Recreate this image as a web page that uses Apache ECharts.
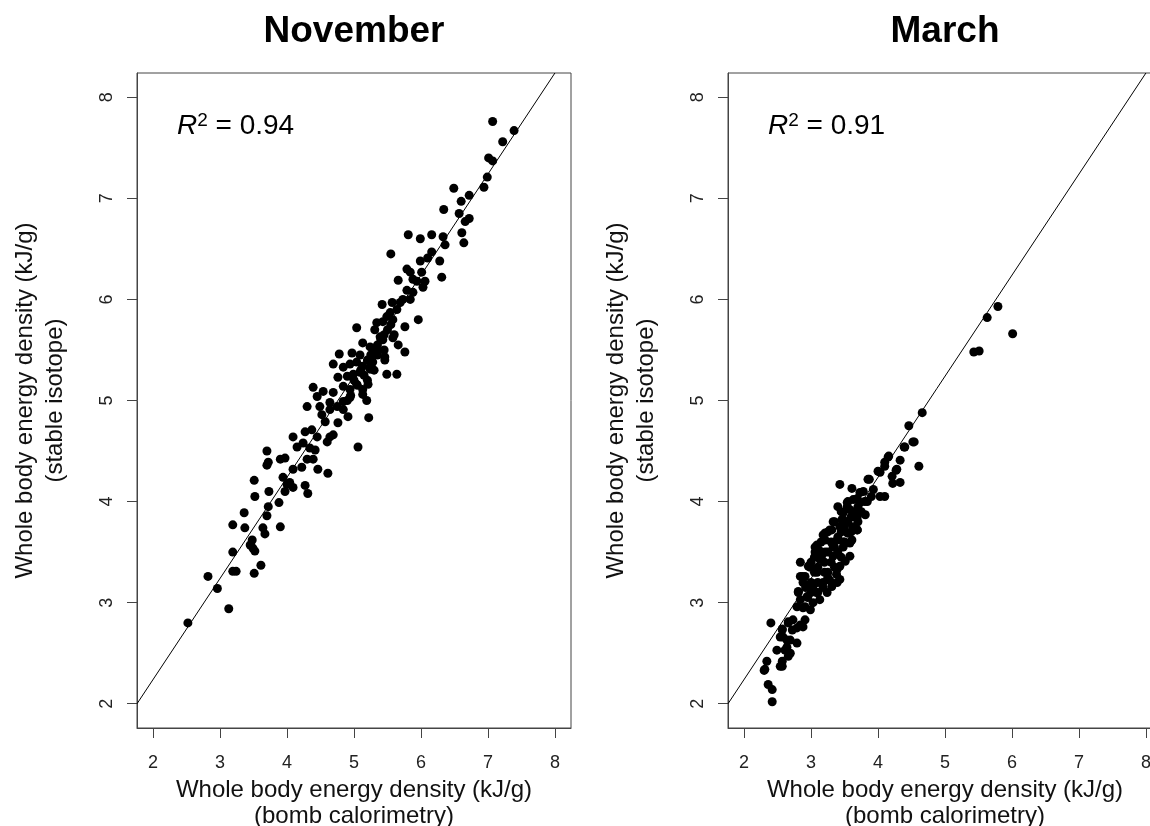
<!DOCTYPE html>
<html>
<head>
<meta charset="utf-8">
<script src="https://cdn.jsdelivr.net/npm/echarts@6/dist/echarts.min.js"></script>
<style>
  html, body { margin: 0; padding: 0; background: #fff; overflow: hidden; }
  #chart { width: 1180px; height: 826px; }
</style>
</head>
<body>
<div id="chart"></div>
<script>
var panelTitles = ['November', 'March']
var r2Values = ['0.94', '0.91']
var tickValues = [2, 3, 4, 5, 6, 7, 8]
var axisRange = [1.76, 8.24]
var xName = 'Whole body energy density (kJ/g)\n(bomb calorimetry)'
var yName = 'Whole body energy density (kJ/g)\n(stable isotope)'
// reference line, same in both panels
var refLine = [[1.76, 2.0], [8.0, 8.24]]

// [bomb calorimetry, stable isotope]
var novemberPoints = [
  [7.07,7.76],[7.39,7.67],[7.22,7.56],[7.01,7.40],[7.07,7.37],[6.99,7.21],[6.94,7.11],[6.49,7.10],
  [6.72,7.03],[6.60,6.97],[6.34,6.89],[6.57,6.85],[6.72,6.80],[6.66,6.77],[6.61,6.66],[6.64,6.56],
  [5.81,6.64],[5.99,6.60],[6.16,6.64],[6.33,6.62],[6.36,6.54],[5.55,6.45],[6.16,6.47],[6.10,6.41],
  [5.99,6.38],[6.28,6.38],[5.79,6.30],[5.84,6.27],[6.01,6.27],[6.31,6.22],[5.66,6.19],[5.88,6.20],
  [5.94,6.18],[6.06,6.18],[6.03,6.12],[5.79,6.09],[5.88,6.07],[5.73,6.00],[5.69,5.97],[5.84,6.00],
  [5.42,5.95],[5.57,5.97],[5.64,5.90],[5.54,5.87],[5.49,5.83],[5.34,5.77],[5.43,5.78],[5.58,5.80],
  [5.76,5.73],[5.96,5.80],[5.04,5.72],[5.31,5.70],[5.39,5.63],[5.43,5.60],[5.58,5.62],[5.66,5.55],
  [5.76,5.48],[5.13,5.57],[5.24,5.53],[5.34,5.50],[4.78,5.46],[4.97,5.47],[5.09,5.45],[5.46,5.43],
  [4.69,5.36],[4.84,5.33],[4.94,5.36],[5.04,5.38],[5.13,5.34],[5.28,5.38],[5.46,5.40],[4.76,5.23],
  [4.90,5.24],[4.99,5.26],[5.09,5.28],[5.24,5.31],[5.49,5.26],[5.64,5.26],[4.84,5.14],[4.94,5.11],
  [5.04,5.16],[5.13,5.11],[5.21,5.16],[4.39,5.13],[4.45,5.04],[4.54,5.09],[4.69,5.08],[4.30,4.94],
  [4.49,4.94],[4.64,4.98],[4.75,4.94],[4.84,4.99],[4.94,5.03],[5.13,5.06],[4.84,4.91],[4.91,4.84],
  [4.76,4.78],[4.57,4.79],[4.52,4.86],[5.19,5.00],[5.22,4.83],[4.64,4.91],[4.09,4.64],[4.27,4.69],
  [4.37,4.71],[4.45,4.64],[4.64,4.64],[4.69,4.66],[4.60,4.59],[4.24,4.58],[4.15,4.54],[4.34,4.53],
  [4.42,4.51],[4.30,4.42],[4.39,4.42],[4.46,4.32],[4.22,4.34],[4.09,4.32],[4.61,4.28],[5.06,4.54],
  [3.70,4.50],[3.72,4.39],[3.70,4.36],[3.90,4.42],[3.97,4.43],[3.51,4.21],[3.52,4.05],[3.73,4.10],
  [3.94,4.24],[4.00,4.17],[4.04,4.19],[3.97,4.10],[4.09,4.14],[4.27,4.16],[4.31,4.08],[3.88,3.99],
  [3.72,3.95],[3.36,3.89],[3.19,3.77],[3.37,3.74],[3.70,3.86],[3.64,3.74],[3.67,3.68],[3.90,3.75],
  [3.48,3.62],[3.45,3.57],[3.49,3.54],[3.52,3.51],[3.19,3.50],[3.61,3.37],[3.19,3.31],[3.24,3.31],
  [3.51,3.29],[2.82,3.26],[2.96,3.14],[3.13,2.94],[2.52,2.80],
  [5.00,5.20],[5.10,5.30],[5.20,5.40],[5.30,5.50],[5.15,5.25],[5.25,5.35],[5.35,5.45],[5.05,5.15],
  [4.95,5.05],[5.40,5.60],[5.45,5.65],[5.50,5.70],[5.20,5.20],[5.30,5.30],[4.90,5.00],[5.55,5.75],
  [5.60,5.65],[5.35,5.55],[5.45,5.50],[5.25,5.45]
]

var marchPoints = [
  [5.79,5.93],[5.63,5.82],[6.01,5.66],[5.43,5.48],[5.51,5.49],
  [4.66,4.88],[4.46,4.75],[4.54,4.59],[4.61,4.35],[4.39,4.54],[4.33,4.41],[4.16,4.45],[4.10,4.39],
  [4.03,4.29],[4.27,4.31],[4.21,4.25],[4.33,4.19],[4.22,4.18],[4.03,4.05],[4.10,4.05],[3.87,4.22],
  [3.93,4.12],[3.78,4.10],[3.84,4.00],[3.69,4.03],[3.43,4.17],[3.61,4.13],[3.81,3.87],[3.63,3.85],
  [3.54,3.95],[3.40,3.95],[3.33,3.80],[3.48,3.82],[3.69,3.72],[3.55,3.69],[3.43,3.75],[3.18,3.67],
  [3.28,3.72],[3.39,3.62],[3.61,3.62],[3.48,3.55],[3.33,3.55],[3.09,3.57],[3.06,3.50],[3.21,3.50],
  [3.13,3.43],[3.33,3.46],[3.58,3.46],[3.51,3.41],[3.43,3.36],[2.84,3.40],[2.99,3.35],[2.91,3.26],
  [3.09,3.30],[3.25,3.30],[3.39,3.33],[3.43,3.23],[2.84,3.26],[2.88,3.20],[3.03,3.16],[3.18,3.20],
  [3.31,3.16],[3.39,3.20],[3.24,3.10],[2.81,3.11],[2.84,3.03],[2.94,3.06],[3.03,3.00],[3.10,3.10],
  [2.79,2.96],[2.88,2.95],[2.99,2.93],[3.13,3.03],[2.40,2.80],[2.57,2.74],[2.66,2.80],[2.73,2.83],
  [2.84,2.78],[2.91,2.83],[2.72,2.73],[2.79,2.75],[2.88,2.76],[2.54,2.66],[2.64,2.63],[2.79,2.60],
  [2.49,2.53],[2.64,2.56],[2.69,2.50],[2.57,2.42],[2.66,2.47],[2.34,2.42],[2.31,2.34],[2.57,2.37],
  [2.36,2.19],[2.42,2.14],[2.42,2.02],[2.30,2.33],[2.54,2.37],[2.61,2.53],[2.58,2.66],[2.69,2.63],
  [2.57,2.73],[2.66,2.81],[2.81,3.10],[2.87,3.26],[2.96,3.36],[3.06,3.55],[2.91,2.96],
  [3.00,3.20],[3.05,3.30],[3.10,3.35],[3.15,3.45],[3.20,3.40],[3.25,3.50],[3.30,3.60],[3.35,3.55],
  [3.40,3.65],[3.45,3.70],[3.50,3.75],[3.55,3.80],[3.60,3.85],[3.65,3.90],[3.70,3.95],[3.20,3.30],
  [3.30,3.40],[3.40,3.50],[3.50,3.60],[3.10,3.20],[3.00,3.10],[2.95,3.05],[3.25,3.25],[3.35,3.35],
  [3.45,3.45],[3.15,3.60],[3.25,3.70],[3.35,3.80],[3.45,3.90],[3.55,4.00],[3.60,3.70],[3.70,3.80],
  [3.75,3.90],[3.80,4.00],[3.90,4.05],[3.05,3.45],[3.12,3.52],[3.00,3.40],[2.92,3.15],[3.08,3.10],
  [3.18,3.15],[3.28,3.22],[3.38,3.28],
  [3.73,4.09],[3.85,4.22],[4.00,4.30],[4.10,4.35],[4.15,4.44],[4.28,4.32],[4.40,4.54],[4.52,4.59],
  [3.54,3.99],[3.63,4.02],[3.73,3.99],[3.48,3.89],[3.58,3.92],[3.69,3.85],[3.46,3.82],[3.63,3.75],
  [3.21,3.69],[3.31,3.72],[3.54,3.69],[3.69,3.72],[3.21,3.62],[3.33,3.59],[3.48,3.60],[3.58,3.59]
]

var panelPoints = [novemberPoints, marchPoints]

var font = '"Liberation Sans", Arial, sans-serif'
var frameColor = '#444'
var panelLeft = [137, 728]
var panelTop = 73
var panelW = 434
var panelH = 655

var chart = echarts.init(document.getElementById('chart'), null, { renderer: 'canvas' })

var grids = []
var xAxes = []
var yAxes = []
var series = []
var graphics = []

for (let i = 0; i < 2; i++) {
  grids.push({
    left: panelLeft[i], top: panelTop, width: panelW, height: panelH,
    outerBoundsMode: 'none', containLabel: false,
    show: true, borderColor: frameColor, borderWidth: 1, backgroundColor: 'transparent'
  })
  xAxes.push({
    type: 'value', gridIndex: i, min: axisRange[0], max: axisRange[1],
    name: xName, nameLocation: 'middle', nameGap: 44,
    nameTextStyle: { fontFamily: font, fontSize: 24, color: '#111', lineHeight: 26 },
    axisLine: { show: true, lineStyle: { color: frameColor, width: 1 } },
    axisTick: { show: true, length: 10, customValues: tickValues, lineStyle: { color: frameColor } },
    axisLabel: { customValues: tickValues, margin: 26, fontFamily: font, fontSize: 18, color: '#222' },
    splitLine: { show: false }
  })
  yAxes.push({
    type: 'value', gridIndex: i, min: axisRange[0], max: axisRange[1],
    name: yName, nameLocation: 'middle', nameGap: 67,
    nameTextStyle: { fontFamily: font, fontSize: 24, color: '#111', lineHeight: 30 },
    axisLine: { show: true, lineStyle: { color: frameColor, width: 1 } },
    axisTick: { show: true, length: 10, customValues: tickValues, lineStyle: { color: frameColor } },
    axisLabel: { customValues: tickValues, rotate: 90, margin: 21, fontFamily: font, fontSize: 18, color: '#222' },
    splitLine: { show: false }
  })
  series.push({
    type: 'scatter', xAxisIndex: i, yAxisIndex: i,
    symbol: 'circle', symbolSize: 9,
    itemStyle: { color: '#000', opacity: 1 },
    data: panelPoints[i]
  })
  series.push({
    type: 'line', xAxisIndex: i, yAxisIndex: i,
    showSymbol: false, clip: true,
    lineStyle: { color: '#000', width: 1 },
    data: refLine
  })
  graphics.push({
    type: 'text', x: panelLeft[i] + panelW / 2, y: 32,
    style: { text: panelTitles[i], fontFamily: font, fontSize: 37, fontWeight: 'bold', fill: '#000', align: 'center', verticalAlign: 'middle' }
  })
  graphics.push({
    type: 'text', x: panelLeft[i] + 40, y: 126,
    style: {
      text: '{r|R}{s|2}{n| = ' + r2Values[i] + '}',
      verticalAlign: 'middle',
      rich: {
        r: { fontFamily: font, fontSize: 28, fontStyle: 'italic', fill: '#000', lineHeight: 30 },
        s: { fontFamily: font, fontSize: 19, fill: '#000', verticalAlign: 'top', lineHeight: 22 },
        n: { fontFamily: font, fontSize: 28, fill: '#000', lineHeight: 30 }
      }
    }
  })
}

chart.setOption({
  backgroundColor: '#fff',
  animation: false,
  grid: grids,
  xAxis: xAxes,
  yAxis: yAxes,
  series: series,
  graphic: graphics
})
</script>
</body>
</html>
